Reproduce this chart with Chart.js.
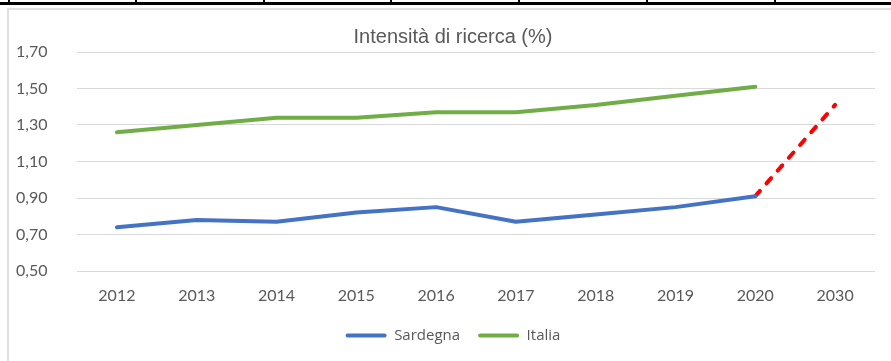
<!DOCTYPE html>
<html lang="it">
<head>
<meta charset="utf-8">
<title>Intensità di ricerca (%)</title>
<script src="https://cdn.jsdelivr.net/npm/chart.js@4/dist/chart.umd.min.js"></script>
<style>
  html, body { margin: 0; padding: 0; background: #fff; }
  body { width: 891px; height: 361px; position: relative; overflow: hidden; }
  /* table rule above the chart */
  .rule { position: absolute; left: 0; top: 2px; width: 891px; height: 3px; background: #000; }
  .tick { position: absolute; top: 0; width: 2px; height: 3px; background: #000; }
  /* chart frame */
  .frame { position: absolute; left: 7px; top: 8px; width: 900px; height: 400px;
           border-top: 2px solid #e0e0e0; border-left: 2px solid #e0e0e0; }
  #chart { position: absolute; left: 0; top: 0; }
</style>
</head>
<body>
<div class="rule"></div>
<div class="tick" style="left:8px"></div>
<div class="tick" style="left:135px"></div>
<div class="tick" style="left:263px"></div>
<div class="tick" style="left:390px"></div>
<div class="tick" style="left:518px"></div>
<div class="tick" style="left:646px"></div>
<div class="tick" style="left:774px"></div>
<div class="frame"></div>
<canvas id="chart" width="891" height="361"></canvas>
<script>
const years = ['2012', '2013', '2014', '2015', '2016', '2017', '2018', '2019', '2020', '2030'];
const sardegna = [0.74, 0.78, 0.77, 0.82, 0.85, 0.77, 0.81, 0.85, 0.91];
const italia = [1.26, 1.30, 1.34, 1.34, 1.37, 1.37, 1.41, 1.46, 1.51];
// Sardegna 2020 -> 2030 target
const sardegnaTarget = [null, null, null, null, null, null, null, null, 0.91, 1.41];
const yTicks = [0.5, 0.7, 0.9, 1.1, 1.3, 1.5, 1.7];

const textColor = '#595959';
const gridColor = '#d9d9d9';

const ctx = document.getElementById('chart').getContext('2d');

new Chart(ctx, {
  type: 'line',
  data: {
    labels: years,
    datasets: [
      {
        label: 'Sardegna',
        data: sardegna,
        borderColor: '#4472C4',
        backgroundColor: '#4472C4',
        borderWidth: 4,
        pointRadius: 0,
        borderJoinStyle: 'round',
        borderCapStyle: 'round',
      },
      {
        label: 'Italia',
        data: italia,
        borderColor: '#70AD47',
        backgroundColor: '#70AD47',
        borderWidth: 4,
        pointRadius: 0,
        borderJoinStyle: 'round',
        borderCapStyle: 'round',
      },
      {
        label: '',
        data: sardegnaTarget,
        borderColor: '#FF0000',
        borderWidth: 4,
        borderDash: [7, 10],
        borderCapStyle: 'round',
        pointRadius: 0,
      },
    ],
  },
  options: {
    responsive: false,
    animation: false,
    events: [],
    layout: {
      padding: { top: 0, left: 31, right: 16, bottom: 8 },
    },
    scales: {
      x: {
        offset: true,
        grid: { display: false, drawTicks: false },
        border: { display: false },
        ticks: {
          color: textColor,
          font: { family: 'Lato', size: 16 },
          padding: 15,
          maxRotation: 0,
        },
        afterFit(scale) { scale.height = 39; },
      },
      y: {
        min: 0.5,
        max: 1.7,
        grid: { color: gridColor, lineWidth: 1, drawTicks: false },
        border: { display: false },
        ticks: {
          color: textColor,
          font: { family: 'Lato', size: 16 },
          // labels sit left of the (narrow) axis box, so draw them mirrored
          // with a negative offset instead of letting the box clip them
          mirror: true,
          crossAlign: 'near',
          padding: -61,
          callback: (v) => v.toFixed(2).replace('.', ','),
        },
        afterBuildTicks(scale) {
          scale.ticks = yTicks.map((v) => ({ value: v }));
        },
        afterFit(scale) { scale.width = 46; },
      },
    },
    plugins: {
      title: {
        display: true,
        text: 'Intensità di ricerca (%)',
        color: textColor,
        font: { family: 'Liberation Sans', size: 20, weight: 'normal' },
        padding: { top: 25, bottom: 3 },
      },
      legend: {
        position: 'bottom',
        labels: {
          color: textColor,
          font: { family: 'Open Sans', size: 15 },
          boxWidth: 41,
          boxHeight: 4,
          padding: 18,
          generateLabels(chart) {
            const items = Chart.defaults.plugins.legend.labels.generateLabels(chart);
            return items
              .filter((item) => item.text !== '')
              .map((item) => ({ ...item, fillStyle: item.strokeStyle, lineWidth: 0, borderRadius: 2 }));
          },
        },
      },
      tooltip: { enabled: false },
    },
  },
});
</script>
</body>
</html>
